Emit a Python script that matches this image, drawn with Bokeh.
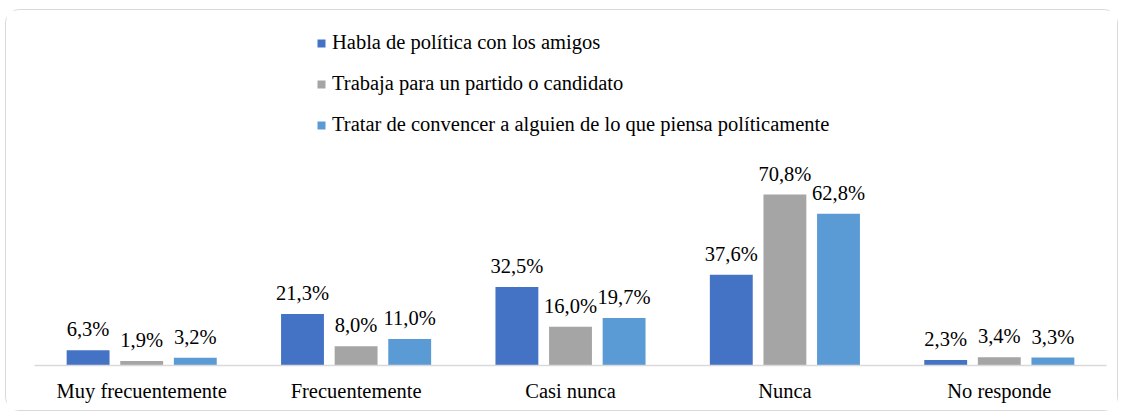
from bokeh.plotting import figure
from bokeh.models import FactorRange, Range1d, ColumnDataSource, Legend, LegendItem
from bokeh.transform import dodge
from bokeh.core.properties import value
from bokeh.embed import file_html
from bokeh.resources import INLINE

categories = ["Muy frecuentemente", "Frecuentemente", "Casi nunca", "Nunca", "No responde"]
series_names = [
    "Habla de política con los amigos",
    "Trabaja para un partido o candidato",
    "Tratar de convencer a alguien de lo que piensa políticamente",
]
habla = [6.3, 21.3, 32.5, 37.6, 2.3]
trabaja = [1.9, 8.0, 16.0, 70.8, 3.4]
convencer = [3.2, 11.0, 19.7, 62.8, 3.3]
colors = ["#4472C4", "#A5A5A5", "#5B9BD5"]
offsets = [-0.25, 0.0, 0.25]

FONT = "'Liberation Serif', 'Times New Roman', serif"
FS = "20.5px"

p = figure(
    x_range=FactorRange(*categories),
    y_range=Range1d(0, 143.3),
    width=1113,
    height=402,
    output_backend="svg",
    toolbar_location=None,
    y_axis_type=None,
    min_border_left=28,
    min_border_right=13,
    min_border_top=9,
    min_border_bottom=47,
)
p.styles = {"border": "1.5px solid #d9d9d9", "border-radius": "14px",
            "box-sizing": "border-box", "margin": "9px 0 0 5px"}
p.outline_line_color = None
p.xgrid.grid_line_color = None
p.ygrid.grid_line_color = None
p.background_fill_color = "white"
p.border_fill_color = "white"

ax = p.xaxis[0]
ax.axis_line_color = "#d9d9d9"
ax.axis_line_width = 1.5
ax.major_tick_line_color = None
ax.minor_tick_line_color = None
ax.major_label_text_font = FONT
ax.major_label_text_font_size = FS
ax.major_label_text_color = "#000000"
ax.major_label_standoff = 8

items = []
for name, vals, col, off in zip(series_names, [habla, trabaja, convencer], colors, offsets):
    src = ColumnDataSource(dict(
        cat=categories,
        val=vals,
        lab=[f"{v:.1f}%".replace(".", ",") for v in vals],
    ))
    r = p.vbar(x=dodge("cat", off, range=p.x_range), top="val", width=0.2, source=src,
               fill_color=col, line_color=None)
    p.text(x=dodge("cat", off, range=p.x_range), y="val", text="lab", source=src,
           text_font=value(FONT), text_font_size=FS, text_color="#000000",
           text_align="center", text_baseline="alphabetic", y_offset=-21)
    items.append(LegendItem(label=name, renderers=[r]))

legend = Legend(
    items=items,
    location=(282, 229),
    orientation="vertical",
    label_text_font=FONT,
    label_text_font_size=FS,
    label_text_color="#000000",
    label_height=20,
    label_standoff=6,
    glyph_width=10,
    glyph_height=10,
    spacing=18,
    padding=0,
    margin=0,
    border_line_color=None,
    background_fill_alpha=0,
)
p.add_layout(legend)

open("out.html", "w").write(file_html(p, INLINE))
